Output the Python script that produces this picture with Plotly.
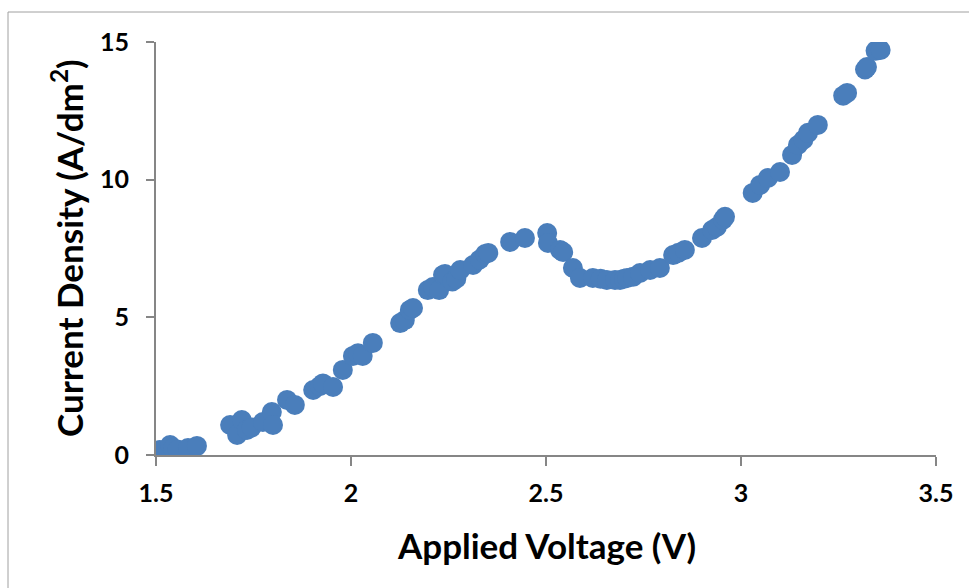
import plotly.graph_objects as go

voltage = [1.51, 1.536, 1.544, 1.555, 1.582, 1.605,
           1.69, 1.708, 1.72, 1.733, 1.745, 1.774, 1.797, 1.80, 1.836, 1.856,
           1.903, 1.92, 1.928, 1.954, 1.979, 2.005, 2.018, 2.03, 2.056,
           2.126, 2.138, 2.151, 2.159, 2.197, 2.21, 2.226, 2.236, 2.241, 2.26, 2.27, 2.28,
           2.313, 2.33, 2.344, 2.352, 2.408, 2.446, 2.503, 2.505, 2.536, 2.544,
           2.569, 2.587, 2.62, 2.64, 2.656, 2.677, 2.69, 2.70, 2.708, 2.723, 2.741,
           2.767, 2.792, 2.826, 2.84, 2.856, 2.9, 2.926, 2.938, 2.954, 2.959,
           3.03, 3.049, 3.069, 3.1, 3.131, 3.146, 3.16, 3.172, 3.197,
           3.262, 3.272, 3.318, 3.323, 3.345, 3.358]
current = [0.18, 0.36, 0.25, 0.2, 0.25, 0.33,
           1.09, 0.73, 1.27, 0.91, 1.0, 1.2, 1.56, 1.09, 2.0, 1.82,
           2.36, 2.5, 2.6, 2.47, 3.09, 3.6, 3.7, 3.6, 4.07,
           4.79, 4.9, 5.27, 5.34, 5.99, 6.1, 5.99, 6.54, 6.57, 6.3, 6.4, 6.72,
           6.9, 7.1, 7.3, 7.34, 7.74, 7.88, 8.06, 7.7, 7.45, 7.37,
           6.79, 6.43, 6.43, 6.4, 6.36, 6.36, 6.36, 6.4, 6.43, 6.47, 6.61,
           6.72, 6.79, 7.26, 7.35, 7.45, 7.88, 8.17, 8.28, 8.55, 8.65,
           9.52, 9.81, 10.06, 10.28, 10.9, 11.26, 11.45, 11.7, 11.99,
           13.05, 13.15, 14.0, 14.09, 14.68, 14.71]

axis_color = '#868686'
font_family = 'Lato, "Open Sans", sans-serif'

fig = go.Figure(go.Scatter(
    x=voltage, y=current, mode='markers',
    marker=dict(size=20, color='#4a7ebb', line=dict(width=0)),
    showlegend=False,
))

fig.update_layout(
    width=969, height=588,
    margin=dict(l=156, r=33, t=42, b=133),
    paper_bgcolor='white', plot_bgcolor='white',
    font=dict(family=font_family, color='black'),
    xaxis=dict(range=[1.5, 3.5], tickvals=[1.5, 2, 2.5, 3, 3.5],
               ticktext=['<b>1.5</b>', '<b>2</b>', '<b>2.5</b>', '<b>3</b>', '<b>3.5</b>'],
               showgrid=False, zeroline=False, showline=True,
               linecolor=axis_color, linewidth=2,
               ticks='outside', ticklen=9, tickcolor=axis_color, tickwidth=2,
               tickfont=dict(size=25, family=font_family), ticklabelstandoff=6),
    yaxis=dict(range=[0, 15], tickvals=[0, 5, 10, 15],
               ticktext=['<b>0</b>', '<b>5</b>', '<b>10</b>', '<b>15</b>'],
               showgrid=False, zeroline=False, showline=True,
               linecolor=axis_color, linewidth=2,
               ticks='outside', ticklen=8, tickcolor=axis_color, tickwidth=2,
               tickfont=dict(size=25, family=font_family), ticklabelstandoff=12),
    annotations=[
        dict(text='<b>Applied Voltage (V)</b>', xref='paper', yref='paper',
             x=(546 - 156) / 780, y=(455 - 545) / 413, showarrow=False,
             font=dict(size=35, family=font_family), xanchor='center', yanchor='middle'),
        dict(text='<b>Current Density (A/dm<sup>2</sup>)</b>', xref='paper', yref='paper',
             x=(67 - 156) / 780, y=(455 - 248) / 413, showarrow=False, textangle=-90,
             font=dict(size=35, family=font_family), xanchor='center', yanchor='middle'),
    ],
    shapes=[
        dict(type='rect', xref='paper', yref='paper',
             x0=(8 - 156) / 780, y0=(455 - 600) / 413,
             x1=(980 - 156) / 780, y1=(455 - 12) / 413,
             line=dict(color='#a0a0a0', width=1), layer='below'),
    ],
)

fig.write_html('out.html')
